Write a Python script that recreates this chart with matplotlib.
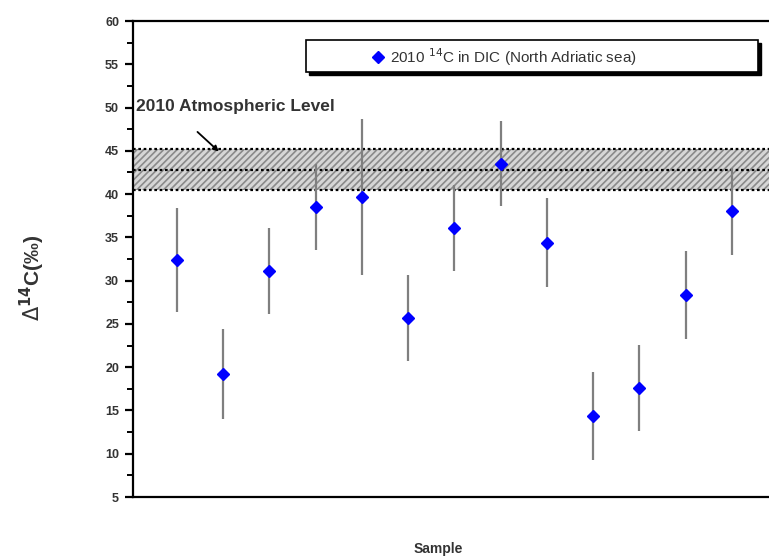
import numpy as np
import matplotlib
matplotlib.use('Agg')
import matplotlib.pyplot as plt
from matplotlib.patches import Rectangle
from matplotlib.ticker import MultipleLocator

plt.rcParams['font.family'] = ['Liberation Sans', 'DejaVu Sans']
plt.rcParams['hatch.linewidth'] = 1.2

# data
sample = np.arange(1, 14)
d14c = [32.4, 19.2, 31.1, 38.5, 39.7, 25.7, 36.1, 43.5, 34.4, 14.4, 17.6, 28.3, 38.0]
err = [6.0, 5.2, 5.0, 5.0, 9.0, 5.0, 5.0, 4.9, 5.1, 5.1, 5.0, 5.1, 5.0]

atm_low, atm_mid, atm_high = 40.5, 42.8, 45.2

fig = plt.figure(figsize=(7.69, 5.59), dpi=100)
ax = fig.add_axes([133/769, 1 - 497/559, 636/769, 476/559])

# atmospheric band
ax.fill_between([0, 15], atm_low, atm_high, facecolor='#d6d6d6', edgecolor='#8a8a8a',
                hatch='/////', linewidth=0, zorder=1)
for lev in (atm_low, atm_mid, atm_high):
    ax.axhline(lev, color='black', ls=(0, (1.2, 1.2)), lw=1.6, zorder=2)

ax.errorbar(sample, d14c, yerr=err, fmt='D', color='blue', ms=6.5, mec='blue',
            ecolor='#7f7f7f', elinewidth=1.6, capsize=0, zorder=3)

ax.set_xlim(0.05, 13.8)
ax.set_ylim(5, 60)
ax.yaxis.set_major_locator(MultipleLocator(5))
ax.yaxis.set_minor_locator(MultipleLocator(2.5))
ax.tick_params(axis='y', which='major', direction='out', length=6, width=1.6,
               labelsize=9, pad=4, labelcolor='#333333')
ax.tick_params(axis='y', which='minor', direction='out', length=4, width=1.4)
ax.set_yticklabels([f'{int(v)}' for v in ax.get_yticks()], fontweight='bold')
ax.set_xticks([])
ax.spines['right'].set_visible(False)
for s in ('left', 'bottom', 'top'):
    ax.spines[s].set_linewidth(1.6)

ax.set_ylabel(r'$\Delta^{\mathbf{14}}$C(‰)', fontsize=15, fontweight='bold', color='#333333')
ax.yaxis.set_label_coords(-0.135, 0.46)
ax.set_xlabel('Sample', fontsize=10, fontweight='bold', color='#333333')
ax.xaxis.set_label_coords(0.48, -0.095)

ax.text(0.12, 50.1, '2010 Atmospheric Level', fontsize=12.5, fontweight='bold',
        color='#333333', va='center', ha='left')
ax.annotate('', xy=(1.95, 44.7), xytext=(1.4, 47.4),
            arrowprops=dict(arrowstyle='-|>', color='black', lw=1.3, mutation_scale=8))

# legend box drawn by hand
x0, x1, y0, y1 = 0.272, 0.983, 0.893, 0.960
ax.add_patch(Rectangle((x0 + 0.005, y0 - 0.006), x1 - x0, y1 - y0, transform=ax.transAxes,
                       facecolor='black', edgecolor='black', zorder=4, clip_on=False))
ax.add_patch(Rectangle((x0, y0), x1 - x0, y1 - y0, transform=ax.transAxes,
                       facecolor='white', edgecolor='black', lw=1.2, zorder=5, clip_on=False))
ax.plot([0.385], [0.925], 'D', color='blue', ms=6, transform=ax.transAxes, zorder=6)
ax.text(0.404, 0.925, r'2010 $^{14}$C in DIC (North Adriatic sea)', fontsize=11,
        color='#333333', va='center', ha='left', transform=ax.transAxes, zorder=6)

fig.savefig('out.png', dpi=100)
